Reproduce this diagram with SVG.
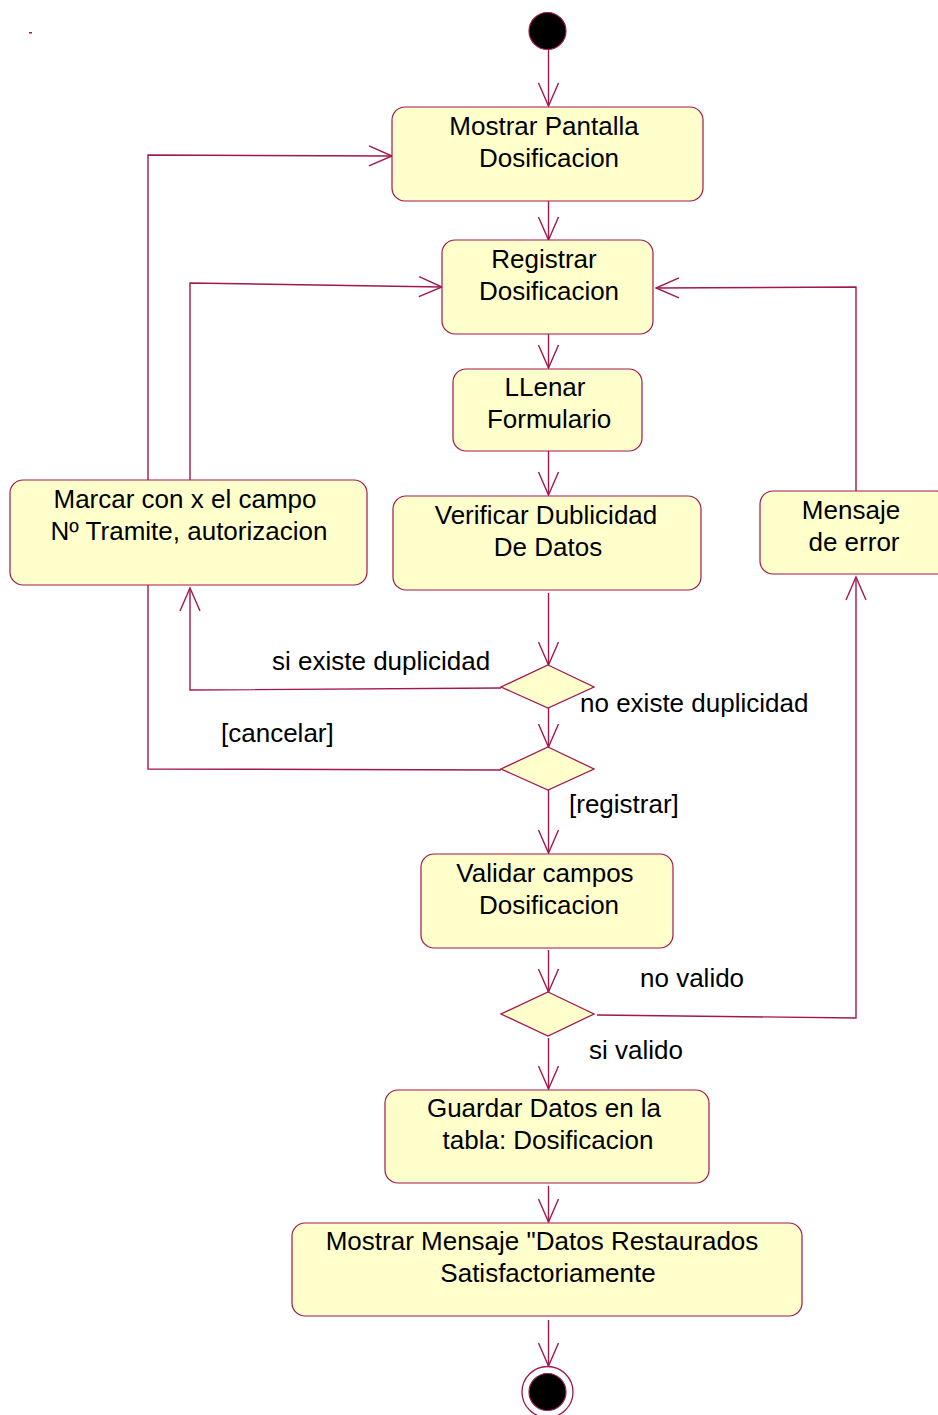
<svg xmlns="http://www.w3.org/2000/svg" width="938" height="1415" viewBox="0 0 938 1415">
<style>
.node{fill:#FFFFCC;stroke:#A3174F;stroke-width:1.2}
.dec{fill:#FFFFCC;stroke:#A3174F;stroke-width:1.3}
.edge{fill:none;stroke:#A3174F;stroke-width:1.4}
text{font-family:"Liberation Sans",Arial,sans-serif;font-size:26px;fill:#000}
.c{text-anchor:middle}
</style>
<defs>
<marker id="arr" markerUnits="userSpaceOnUse" viewBox="-26 -12 28 24" markerWidth="28" markerHeight="24" refX="0" refY="0" orient="auto" overflow="visible">
<path d="M-23,-10 L0,0 L-23,10" fill="none" stroke="#A3174F" stroke-width="1.4"/>
</marker>
</defs>
<rect x="29" y="32" width="3" height="1.5" fill="#A3174F"/>
<g id="connectors">
<line class="edge" x1="548.5" y1="49" x2="548.5" y2="106" marker-end="url(#arr)"/>
<line class="edge" x1="548.5" y1="201" x2="548.5" y2="240" marker-end="url(#arr)"/>
<line class="edge" x1="548.5" y1="334" x2="548.5" y2="368" marker-end="url(#arr)"/>
<line class="edge" x1="548.5" y1="451" x2="548.5" y2="495" marker-end="url(#arr)"/>
<line class="edge" x1="548.5" y1="593" x2="548.5" y2="665" marker-end="url(#arr)"/>
<line class="edge" x1="548.5" y1="708" x2="548.5" y2="747" marker-end="url(#arr)"/>
<line class="edge" x1="548.5" y1="790" x2="548.5" y2="853" marker-end="url(#arr)"/>
<line class="edge" x1="548.5" y1="950" x2="548.5" y2="992" marker-end="url(#arr)"/>
<line class="edge" x1="548.5" y1="1038" x2="548.5" y2="1089" marker-end="url(#arr)"/>
<line class="edge" x1="548.5" y1="1186" x2="548.5" y2="1222" marker-end="url(#arr)"/>
<line class="edge" x1="548.5" y1="1320" x2="548.5" y2="1366" marker-end="url(#arr)"/>
<polyline class="edge" points="148,480 148,155 392,156" marker-end="url(#arr)"/>
<polyline class="edge" points="190,480 190,283 442,287" marker-end="url(#arr)"/>
<polyline class="edge" points="501,688 190,690 190,588" marker-end="url(#arr)"/>
<polyline class="edge" points="148,585 148,769 501,770"/>
<polyline class="edge" points="597,1015 856,1018 856,577" marker-end="url(#arr)"/>
<polyline class="edge" points="856,491 856,287 656,288" marker-end="url(#arr)"/>
</g>
<g id="start"><circle cx="547.5" cy="31" r="18.5" fill="#000" stroke="#A3174F" stroke-width="1.2"/></g>
<g id="n1"><rect class="node" x="392" y="107" width="311" height="94" rx="13"/>
<text class="c" x="544" y="135">Mostrar Pantalla</text><text class="c" x="549" y="167">Dosificacion</text></g>
<g id="n2"><rect class="node" x="442" y="240" width="211" height="94" rx="13"/>
<text class="c" x="544" y="268">Registrar</text><text class="c" x="549" y="300">Dosificacion</text></g>
<g id="n3"><rect class="node" x="453" y="369" width="189" height="82" rx="13"/>
<text class="c" x="545" y="396">LLenar</text><text class="c" x="549" y="428">Formulario</text></g>
<g id="n4"><rect class="node" x="393" y="496" width="308" height="94" rx="13"/>
<text class="c" x="546" y="524">Verificar Dublicidad</text><text class="c" x="548" y="556">De Datos</text></g>
<g id="n5"><rect class="node" x="10" y="480" width="357" height="105" rx="13"/>
<text class="c" x="185" y="508">Marcar con x el campo</text><text class="c" x="189" y="540">Nº Tramite, autorizacion</text></g>
<g id="n6"><rect class="node" x="760" y="491" width="190" height="83" rx="13"/>
<text class="c" x="851" y="519">Mensaje</text><text class="c" x="854" y="551">de error</text></g>
<g id="d1"><polygon class="dec" points="548,665 594,687 548,708 501,687"/></g>
<g id="d2"><polygon class="dec" points="548,747 594,769 548,790 501,769"/></g>
<g id="n7"><rect class="node" x="421" y="854" width="252" height="94" rx="13"/>
<text class="c" x="545" y="882">Validar campos</text><text class="c" x="549" y="914">Dosificacion</text></g>
<g id="d3"><polygon class="dec" points="548,992 594,1014 548,1036 501,1014"/></g>
<g id="n8"><rect class="node" x="385" y="1090" width="324" height="93" rx="13"/>
<text class="c" x="544" y="1117">Guardar Datos en la</text><text class="c" x="548" y="1149">tabla: Dosificacion</text></g>
<g id="n9"><rect class="node" x="292" y="1223" width="510" height="93" rx="13"/>
<text class="c" x="542" y="1250">Mostrar Mensaje "Datos Restaurados</text><text class="c" x="548" y="1282">Satisfactoriamente</text></g>
<g id="end"><circle cx="547.5" cy="1392" r="25.5" fill="#fff" stroke="#A3174F" stroke-width="1.3"/><circle cx="547.5" cy="1392" r="18.5" fill="#000" stroke="#A3174F" stroke-width="1.2"/></g>
<g id="labels">
<text x="272" y="670">si existe duplicidad</text>
<text x="580" y="712">no existe duplicidad</text>
<text x="221" y="742">[cancelar]</text>
<text x="569" y="813">[registrar]</text>
<text x="640" y="987">no valido</text>
<text x="589" y="1059">si valido</text>
</g>
</svg>
